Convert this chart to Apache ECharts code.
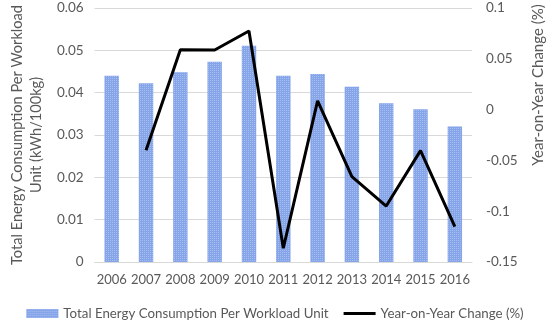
<!DOCTYPE html>
<html><head><meta charset="utf-8">
<script src="https://cdn.jsdelivr.net/npm/echarts@6/dist/echarts.min.js"></script>
<style>html,body{margin:0;padding:0;background:#fff}#c{width:550px;height:322px}</style>
</head><body><div id="c"></div>
<script>
const years = ['2006','2007','2008','2009','2010','2011','2012','2013','2014','2015','2016'];
const energy = [0.0440, 0.0422, 0.0448, 0.0473, 0.0511, 0.0440, 0.0444, 0.0414, 0.0375, 0.0361, 0.0320];
const yoy = [null, -0.040, 0.059, 0.0587, 0.0774, -0.1365, 0.0085, -0.066, -0.0949, -0.0404, -0.1152];
const leftTicks = [0, 0.06, 0.01];
const rightTicks = [-0.15, 0.1, 0.05];
const barName = 'Total Energy Consumption Per Workload Unit';
const lineName = 'Year-on-Year Change (%)';
const FONT = 'Lato';
const GREY = '#595959';
const chart = echarts.init(document.getElementById('c'));
chart.setOption({
  animation: false,
  textStyle: {fontFamily: FONT},
  grid: {left: 88, right: 78, top: 8, bottom: 60},
  legend: {
    top: 302, left: 'center', itemGap: 15, itemWidth: 32, itemHeight: 9,
    textStyle: {color: GREY, fontSize: 13.3, fontFamily: FONT},
    data: [
      {name: barName, icon: 'rect'},
      {name: lineName, icon: 'path://M0,0 M0,3 L32,3 L32,6 L0,6 Z M32,9'}
    ]
  },
  graphic: [{
    type: 'text', x: 538, y: 85, rotation: Math.PI / 2,
    style: {text: lineName, fill: GREY, fontSize: 15, fontFamily: FONT, align: 'center', verticalAlign: 'middle'}
  }],
  xAxis: {
    type: 'category', data: years,
    axisLine: {show: true, lineStyle: {color: '#d9d9d9'}},
    axisTick: {show: false},
    axisLabel: {color: GREY, fontSize: 13, margin: 11, interval: 0, fontFamily: FONT}
  },
  yAxis: [{
    type: 'value', min: leftTicks[0], max: leftTicks[1], interval: leftTicks[2],
    name: 'Total Energy Consumption Per Workload\nUnit (kWh/100kg)',
    nameLocation: 'middle', nameGap: 48, nameRotate: 90,
    nameTextStyle: {color: GREY, fontSize: 14.6, lineHeight: 19, fontFamily: FONT},
    axisLabel: {color: GREY, fontSize: 13.5, margin: 11, fontFamily: FONT},
    splitLine: {lineStyle: {color: '#d9d9d9'}},
    axisLine: {show: false}, axisTick: {show: false}
  }, {
    type: 'value', min: rightTicks[0], max: rightTicks[1], interval: rightTicks[2],
    axisLabel: {color: GREY, fontSize: 13.5, margin: 14, fontFamily: FONT,
      formatter: v => String(+v.toFixed(2))},
    splitLine: {show: false}, axisLine: {show: false}, axisTick: {show: false}
  }],
  series: [{
    name: barName, type: 'bar', data: energy, yAxisIndex: 0, barWidth: '42%',
    itemStyle: {color: '#86a5e8', decal: {symbol: 'rect', symbolSize: 1, color: 'rgba(180,200,245,0.7)', dashArrayX: [1, 1], dashArrayY: [1, 1], rotation: 0}}
  }, {
    name: lineName, type: 'line', data: yoy, yAxisIndex: 1,
    showSymbol: false, symbol: 'none',
    lineStyle: {color: '#000', width: 3}, itemStyle: {color: '#000'}
  }]
});
</script></body></html>
